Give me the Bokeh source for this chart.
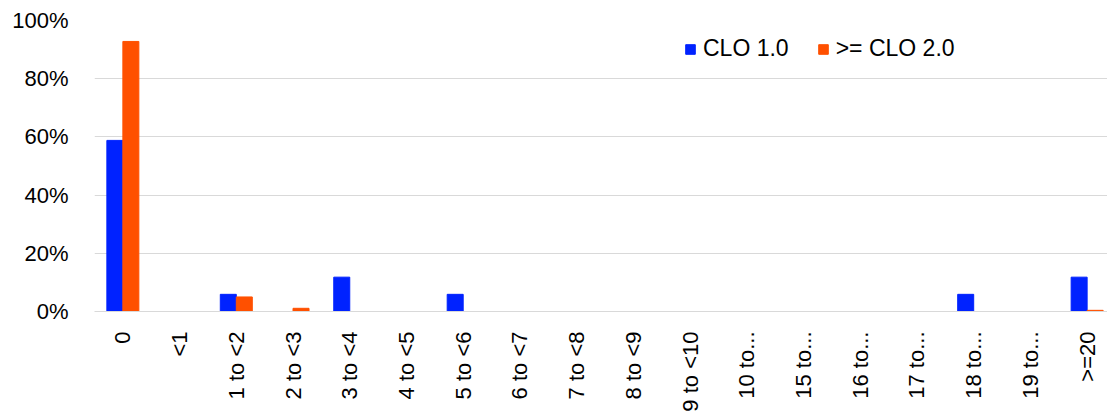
from bokeh.plotting import figure
from bokeh.models import ColumnDataSource, FactorRange, NumeralTickFormatter
from bokeh.transform import dodge
from bokeh.embed import file_html
from bokeh.resources import INLINE

categories = ["0", "<1", "1 to <2", "2 to <3", "3 to <4", "4 to <5", "5 to <6",
              "6 to <7", "7 to <8", "8 to <9", "9 to <10", "10 to...", "15 to...",
              "16 to...", "17 to...", "18 to...", "19 to...", ">=20"]

clo1 = [0.588, 0.0, 0.059, 0.0, 0.118, 0.0, 0.059, 0.0, 0.0, 0.0, 0.0, 0.0, 0.0,
        0.0, 0.0, 0.059, 0.0, 0.118]
clo2 = [0.928, 0.0, 0.050, 0.011, 0.0, 0.0, 0.0, 0.0, 0.0, 0.0, 0.0, 0.0, 0.0,
        0.0, 0.0, 0.0, 0.0, 0.004]

source = ColumnDataSource(dict(cat=categories, clo1=clo1, clo2=clo2))

p = figure(x_range=FactorRange(*categories, range_padding=0), y_range=(0, 1.0),
           width=1115, height=414, min_border_left=94, min_border_top=20,
           min_border_right=0, min_border_bottom=101,
           output_backend="svg", toolbar_location=None)

p.vbar(x=dodge("cat", -0.141, range=p.x_range), top="clo1", width=0.282, source=source,
       color="#0022FF", legend_label="CLO 1.0")
p.vbar(x=dodge("cat", 0.141, range=p.x_range), top="clo2", width=0.282, source=source,
       color="#FF5000", legend_label=">= CLO 2.0")

p.outline_line_color = None
p.xgrid.grid_line_color = None
p.ygrid.grid_line_color = "#d9d9d9"
p.ygrid.grid_line_width = 1

p.yaxis.ticker = [0, 0.2, 0.4, 0.6, 0.8, 1.0]
p.yaxis.formatter = NumeralTickFormatter(format="0%")
p.yaxis.axis_line_color = None
p.yaxis.major_tick_line_color = None
p.yaxis.minor_tick_line_color = None
p.yaxis.major_label_standoff = 20
p.yaxis.major_label_text_font = "Liberation Sans"
p.yaxis.major_label_text_font_size = "22px"
p.yaxis.major_label_text_color = "black"

p.xaxis.axis_line_color = "#d9d9d9"
p.xaxis.major_tick_line_color = None
p.xaxis.minor_tick_line_color = None
p.xaxis.major_label_orientation = 1.5708
p.xaxis.major_label_standoff = 14
p.xaxis.major_label_text_font = "Liberation Sans"
p.xaxis.major_label_text_font_size = "22px"
p.xaxis.major_label_text_color = "black"

lg = p.legend[0]
lg.orientation = "horizontal"
lg.location = (590, 249)
lg.border_line_color = None
lg.background_fill_alpha = 0
lg.padding = 0
lg.margin = 0
lg.spacing = 28
lg.label_standoff = 7
lg.glyph_width = 12
lg.glyph_height = 12
lg.label_text_font = "Liberation Sans"
lg.label_text_font_size = "23px"
lg.label_text_color = "black"

open("out.html", "w").write(file_html(p, INLINE))
